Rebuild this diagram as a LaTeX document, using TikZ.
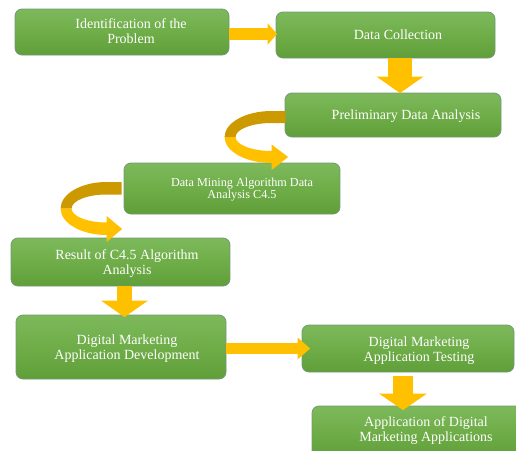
\documentclass[tikz,border=0pt]{standalone}
\usepackage{fontspec}
\setmainfont{Liberation Serif}
\usetikzlibrary{calc,arrows.meta}
\begin{document}
\begin{tikzpicture}[x=1pt,y=-1pt,
  stepbox/.style={draw=white!75!green!60!black, line width=0.8pt, rounded corners=7pt,
    top color=boxtop, bottom color=boxbot, middle color=boxmid, inner sep=0pt},
  steptext/.style={text=white, align=center, inner sep=0pt,
    font=\fontsize{14pt}{14.7pt}\selectfont},
  smalltext/.style={steptext, font=\fontsize{12.2pt}{12.7pt}\selectfont},
  flow/.style={fill=arrowgold, draw=none},
  flowback/.style={fill=arrowdark, draw=none},
  blockarrow/.style n args={3}{draw=arrowgold, line width=#1,
    -{Triangle[width=#2, length=#3, line width=0pt]}}]
\definecolor{boxtop}{HTML}{7DB95C}
\definecolor{boxmid}{HTML}{6FAD48}
\definecolor{boxbot}{HTML}{5F9E38}
\definecolor{arrowgold}{HTML}{FFC000}
\definecolor{arrowdark}{HTML}{CC9900}
\useasboundingbox (0,0) rectangle (516,450);

% process boxes
\node[stepbox, minimum width=214pt, minimum height=46pt] (b1) at (122,32) {};
\node[stepbox, minimum width=219pt, minimum height=46pt] (b2) at (385.5,35) {};
\node[stepbox, minimum width=216pt, minimum height=44pt] (b3) at (393,115) {};
\node[stepbox, minimum width=216pt, minimum height=51pt] (b4) at (232,188.5) {};
\node[stepbox, minimum width=219pt, minimum height=48pt] (b5) at (120.5,262) {};
\node[stepbox, minimum width=210pt, minimum height=64pt] (b6) at (121,347) {};
\node[stepbox, minimum width=212pt, minimum height=47pt] (b7) at (408,348.5) {};
\node[stepbox, minimum width=210pt, minimum height=52pt] (b8) at (417,432) {};

% box labels
\node[steptext] (t1) at ($(b1)+(9,-0.8)$) {Identification of the\\Problem};
\node[steptext] (t2) at ($(b2)+(12.5,0.2)$) {Data Collection};
\node[steptext] (t3) at ($(b3)+(13,1)$) {Preliminary Data Analysis};
\node[smalltext] (t4) at ($(b4)+(10,1)$) {Data Mining Algorithm Data\\Analysis C4.5};
\node[steptext] (t5) at ($(b5)+(6.5,1.4)$) {Result of C4.5 Algorithm\\Analysis};
\node[steptext] (t6) at ($(b6)+(6,1.4)$) {Digital Marketing\\Application Development};
\node[steptext] (t7) at ($(b7)+(11,2.4)$) {Digital Marketing\\Application Testing};
\node[steptext] (t8) at ($(b8)+(9,-1.1)$) {Application of Digital\\Marketing Applications};

% straight block arrows
\draw[blockarrow={12pt}{21.5pt}{9.5pt}] ($(b1.east)+(0,2)$) -- ($(b1.east -| b2.west)+(1.5,2)$);
\draw[blockarrow={24pt}{47pt}{16.5pt}] ($(b2.south)+(14.5,0)$) -- ($(b2.south |- b3.north)+(14.5,0.5)$);
\draw[blockarrow={15pt}{47pt}{16.5pt}] ($(b5.south)+(4,0)$) -- ($(b5.south |- b6.north)+(4,2.5)$);
\draw[blockarrow={11pt}{22pt}{12.5pt}] ($(b6.east)+(0,1.5)$) -- ($(b6.east -| b7.west)+(8.5,1.5)$);
\draw[blockarrow={20pt}{48pt}{16.5pt}] ($(b7.south)+(-5,4)$) -- ($(b7.south |- b8.north)+(-5,4.5)$);

% curved ribbon arrows: back face first, then the front face with its head
\begin{scope}[shift={(b3.west)}]
  \path[flowback] (1,-4) -- (-13,-4) arc[start angle=270, end angle=180, x radius=47, y radius=26]
    -- ++(11,0) arc[start angle=180, end angle=270, x radius=36, y radius=14] -- (1,8) -- cycle;
  \path[flow] (-60,22) arc[start angle=180, end angle=90, x radius=47, y radius=26]
    -- (-13,55) -- (3.5,42) -- (-13,29.5) -- (-13,36)
    arc[start angle=90, end angle=180, x radius=36, y radius=14] -- cycle;
\end{scope}
\begin{scope}[shift={(b4.west)}]
  \path[flowback] (-2,-6.5) -- (-17,-6.5) arc[start angle=270, end angle=180, x radius=46, y radius=26.5]
    -- ++(11,0) arc[start angle=180, end angle=270, x radius=35, y radius=14] -- (-2,6) -- cycle;
  \path[flow] (-63,20) arc[start angle=180, end angle=90, x radius=46, y radius=26.5]
    -- (-17,53.5) -- (-1.5,40.5) -- (-17,27.5) -- (-17,34)
    arc[start angle=90, end angle=180, x radius=35, y radius=14] -- cycle;
\end{scope}
\end{tikzpicture}
\end{document}
